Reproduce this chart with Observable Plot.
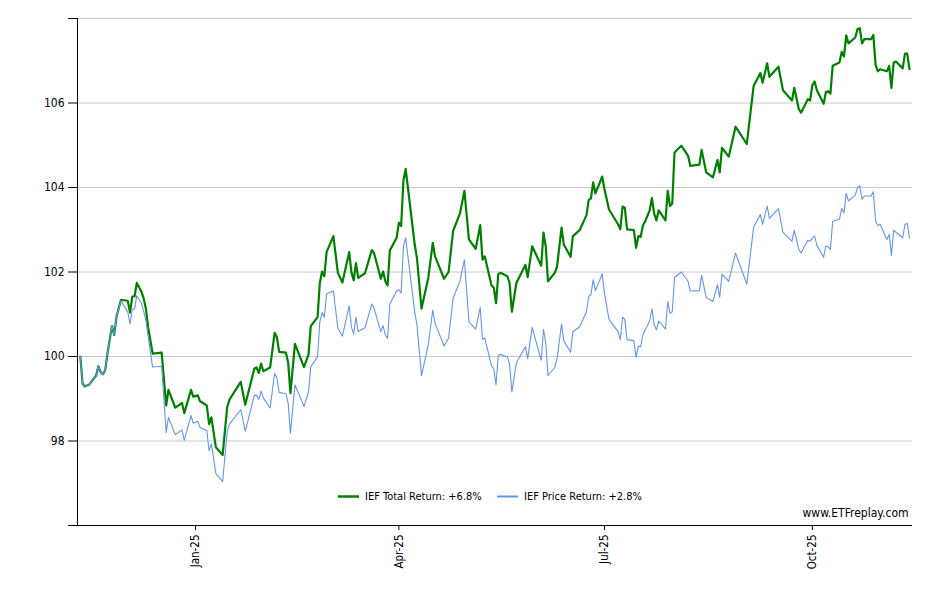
<!DOCTYPE html>
<html><head><meta charset="utf-8">
<script src="https://cdn.jsdelivr.net/npm/d3@7"></script>
<script src="https://cdn.jsdelivr.net/npm/@observablehq/plot@0.6"></script>
<style>body{margin:0;background:#fff} #chart svg{display:block}</style>
</head><body><div id="chart"></div>
<script>
const dates = [
"2024-11-11","2024-11-12","2024-11-13","2024-11-15","2024-11-18","2024-11-19","2024-11-20","2024-11-21","2024-11-22","2024-11-23",
"2024-11-25","2024-11-26","2024-11-27","2024-11-29","2024-12-02","2024-12-03","2024-12-04","2024-12-05","2024-12-06","2024-12-08",
"2024-12-09","2024-12-10","2024-12-11","2024-12-13","2024-12-17","2024-12-19","2024-12-20","2024-12-23","2024-12-26","2024-12-27",
"2024-12-30","2024-12-31","2025-01-02","2025-01-03","2025-01-06","2025-01-07","2025-01-08","2025-01-10","2025-01-13","2025-01-15",
"2025-01-16","2025-01-21","2025-01-23","2025-01-27","2025-01-28","2025-01-29","2025-01-30","2025-01-31","2025-02-03","2025-02-05",
"2025-02-06","2025-02-07","2025-02-10","2025-02-11","2025-02-12","2025-02-14","2025-02-18","2025-02-20","2025-02-21","2025-02-24",
"2025-02-25","2025-02-26","2025-02-27","2025-02-28","2025-03-03","2025-03-05","2025-03-07","2025-03-10","2025-03-11","2025-03-12",
"2025-03-13","2025-03-14","2025-03-17","2025-03-20","2025-03-21","2025-03-24","2025-03-25","2025-03-26","2025-03-27","2025-03-28",
"2025-03-31","2025-04-01","2025-04-02","2025-04-03","2025-04-04","2025-04-05","2025-04-08","2025-04-09","2025-04-11","2025-04-14",
"2025-04-16","2025-04-17","2025-04-21","2025-04-23","2025-04-25","2025-04-28","2025-04-30","2025-05-02","2025-05-05","2025-05-07",
"2025-05-08","2025-05-09","2025-05-12","2025-05-13","2025-05-14","2025-05-15","2025-05-16","2025-05-19","2025-05-20","2025-05-21",
"2025-05-23","2025-05-27","2025-05-28","2025-05-30","2025-06-03","2025-06-04","2025-06-05","2025-06-06","2025-06-09","2025-06-10",
"2025-06-12","2025-06-13","2025-06-16","2025-06-17","2025-06-20","2025-06-23","2025-06-24","2025-06-25","2025-06-26","2025-06-27",
"2025-06-30","2025-07-01","2025-07-03","2025-07-07","2025-07-08","2025-07-09","2025-07-10","2025-07-11","2025-07-14","2025-07-15",
"2025-07-16","2025-07-17","2025-07-18","2025-07-19","2025-07-21","2025-07-22","2025-07-23","2025-07-24","2025-07-25","2025-07-28",
"2025-07-29","2025-07-30","2025-07-31","2025-08-01","2025-08-04","2025-08-07","2025-08-08","2025-08-12","2025-08-13","2025-08-15",
"2025-08-18","2025-08-20","2025-08-21","2025-08-22","2025-08-25","2025-08-28","2025-09-02","2025-09-05","2025-09-08","2025-09-09",
"2025-09-11","2025-09-12","2025-09-16","2025-09-18","2025-09-22","2025-09-23","2025-09-25","2025-09-26","2025-09-29","2025-09-30",
"2025-10-01","2025-10-02","2025-10-03","2025-10-06","2025-10-07","2025-10-08","2025-10-09","2025-10-10","2025-10-13","2025-10-14",
"2025-10-15","2025-10-16","2025-10-17","2025-10-20","2025-10-21","2025-10-22","2025-10-23","2025-10-24","2025-10-27","2025-10-28",
"2025-10-29","2025-10-30","2025-10-31","2025-11-03","2025-11-04","2025-11-05","2025-11-06","2025-11-07","2025-11-10","2025-11-11",
"2025-11-12","2025-11-13"
];
const totalReturn = [
100.00,99.36,99.29,99.34,99.55,99.77,99.63,99.58,99.67,100.07,
100.72,100.51,100.94,101.34,101.32,101.04,101.42,101.42,101.74,101.54,
101.38,101.14,100.70,100.07,100.09,98.84,99.21,98.79,98.90,98.66,
99.21,99.05,99.08,98.94,98.84,98.40,98.56,97.85,97.67,98.80,
98.98,99.40,98.86,99.71,99.74,99.61,99.83,99.65,99.74,100.56,
100.46,100.11,100.09,99.85,99.13,100.30,99.75,100.05,100.72,100.93,
101.74,102.01,101.90,102.47,102.85,101.98,101.75,102.47,101.99,101.80,
102.21,101.86,101.97,102.52,102.45,101.84,102.01,101.78,101.68,102.51,
102.81,103.17,103.09,104.16,104.44,104.00,102.65,102.33,101.13,101.86,
102.69,102.37,101.84,102.00,102.97,103.38,103.92,102.77,102.55,103.11,
102.29,102.37,101.68,101.63,101.26,101.95,101.98,101.90,101.74,101.06,
101.74,102.17,101.88,102.61,102.15,102.93,102.61,101.78,101.98,102.13,
103.05,102.65,102.36,102.85,102.99,103.34,103.70,103.74,104.12,103.86,
104.26,103.96,103.48,103.13,103.01,103.55,103.52,103.01,102.99,102.57,
102.85,102.83,103.10,103.20,103.46,103.75,103.38,103.22,103.46,103.22,
103.92,103.56,103.62,104.83,104.99,104.75,104.51,104.54,104.89,104.36,
104.24,104.65,104.36,104.94,104.73,105.44,105.03,106.40,106.71,106.48,
106.94,106.62,106.86,106.30,106.06,106.36,105.86,105.77,106.09,106.06,
106.42,106.51,106.30,105.98,106.26,106.28,106.22,106.88,106.96,107.21,
107.10,107.60,107.41,107.55,107.75,107.77,107.41,107.51,107.51,107.61,
106.90,106.75,106.80,106.75,106.88,106.36,106.96,106.98,106.82,107.17,
107.17,106.80
];
const priceReturn = [
100.00,99.36,99.29,99.34,99.55,99.77,99.63,99.58,99.67,100.07,
100.72,100.51,100.94,101.32,101.05,100.77,101.12,101.12,101.44,101.26,
101.08,100.86,100.47,99.75,99.77,98.20,98.56,98.15,98.26,98.02,
98.60,98.42,98.47,98.32,98.25,97.77,97.93,97.23,97.04,98.22,
98.40,98.74,98.23,99.08,99.08,98.98,99.18,99.02,98.78,99.60,
99.50,99.15,99.12,98.89,98.18,99.33,98.82,99.16,99.76,99.99,
100.82,101.04,100.93,101.48,101.55,100.67,100.48,101.20,100.70,100.53,
100.93,100.59,100.68,101.24,101.14,100.59,100.73,100.51,100.43,101.24,
101.55,101.58,101.50,102.61,102.81,102.37,101.06,100.75,99.55,100.27,
101.10,100.79,100.25,100.44,101.38,101.78,102.29,100.82,100.65,101.16,
100.41,100.44,99.78,99.71,99.33,100.03,100.05,99.99,99.82,99.16,
99.85,100.23,99.95,100.69,99.91,100.64,100.32,99.55,99.74,99.95,
100.77,100.37,100.10,100.59,100.70,101.06,101.42,101.46,101.82,101.56,
101.96,101.50,100.88,100.59,100.40,100.93,100.88,100.40,100.37,99.98,
100.25,100.23,100.51,100.63,100.84,101.13,100.75,100.63,100.84,100.65,
101.30,101.02,101.06,101.87,102.00,101.78,101.55,101.56,101.92,101.40,
101.30,101.70,101.40,101.95,101.78,102.45,101.71,103.06,103.36,103.13,
103.56,103.27,103.50,102.94,102.73,102.99,102.53,102.45,102.75,102.73,
102.80,102.85,102.63,102.35,102.61,102.60,102.53,103.20,103.25,103.50,
103.40,103.86,103.68,103.82,104.00,104.04,103.72,103.80,103.80,103.90,
103.20,103.10,103.13,102.77,102.89,102.39,102.99,102.94,102.81,103.13,
103.15,102.80
];
const yTicks = [96, 98, 100, 102, 104, 106, 108];
const xTickDates = ["2025-01-01", "2025-04-01", "2025-07-01", "2025-10-01"];
const seriesNames = ["IEF Total Return: +6.8%", "IEF Price Return: +2.8%"];
const seriesColors = ["#008000", "#6495ed"];
const watermark = "www.ETFreplay.com";

const parse = d3.utcParse("%Y-%m-%d");
const rows = dates.map((d, i) => ({date: parse(d), total: totalReturn[i], price: priceReturn[i]}));
const font = "'DejaVu Sans Condensed', 'DejaVu Sans', sans-serif";
const x0 = new Date(Date.UTC(2024, 10, 9, 18));
const x1 = new Date(Date.UTC(2025, 10, 14, 8));

const chart = Plot.plot({
  width: 940, height: 600,
  marginLeft: 77, marginRight: 28, marginTop: 18, marginBottom: 75,
  style: {fontFamily: font, fontSize: "11.5px", color: "#000", background: "#fff", overflow: "visible"},
  x: {type: "utc", domain: [x0, x1]},
  y: {domain: [96, 108]},
  marks: [
    Plot.gridY(yTicks.filter(v => v > 96), {stroke: "#c8c8c8", strokeOpacity: 1}),
    Plot.axisY({ticks: yTicks, tickSize: 9, tickPadding: 4, tickFormat: v => (v === 96 || v === 108) ? "" : String(v), label: null, fontSize: 12}),
    Plot.axisX({ticks: xTickDates.map(parse), tickFormat: d3.utcFormat("%b-%y"), tickRotate: -90, tickSize: 5, tickPadding: 4, label: null}),
    Plot.ruleY([96], {stroke: "#000"}),
    Plot.ruleX([x0], {stroke: "#000"}),
    Plot.line(rows, {x: "date", y: "total", stroke: seriesColors[0], strokeWidth: 2.2}),
    Plot.line(rows, {x: "date", y: "price", stroke: seriesColors[1], strokeWidth: 1.1}),
    Plot.text([watermark], {frameAnchor: "bottom-right", dx: -4, dy: -9, fontSize: 12, textAnchor: "end"})
  ]
});
document.getElementById("chart").appendChild(chart);

// legend inside the plot area
const svg = d3.select(chart);
const lg = svg.append("g").attr("font-family", font).attr("font-size", 11).attr("text-anchor", "start");
const legendX = [338, 497];
seriesNames.forEach((name, i) => {
  const g = lg.append("g").attr("transform", `translate(${legendX[i]},496.5)`);
  g.append("line").attr("x1", 0).attr("x2", 21).attr("y1", 0).attr("y2", 0)
    .attr("stroke", seriesColors[i]).attr("stroke-width", i === 0 ? 2.5 : 2);
  g.append("text").attr("x", 27).attr("y", 0).attr("dy", "0.35em").attr("fill", "#000")
    .attr("text-anchor", "start").text(name);
});
</script>
</body></html>
